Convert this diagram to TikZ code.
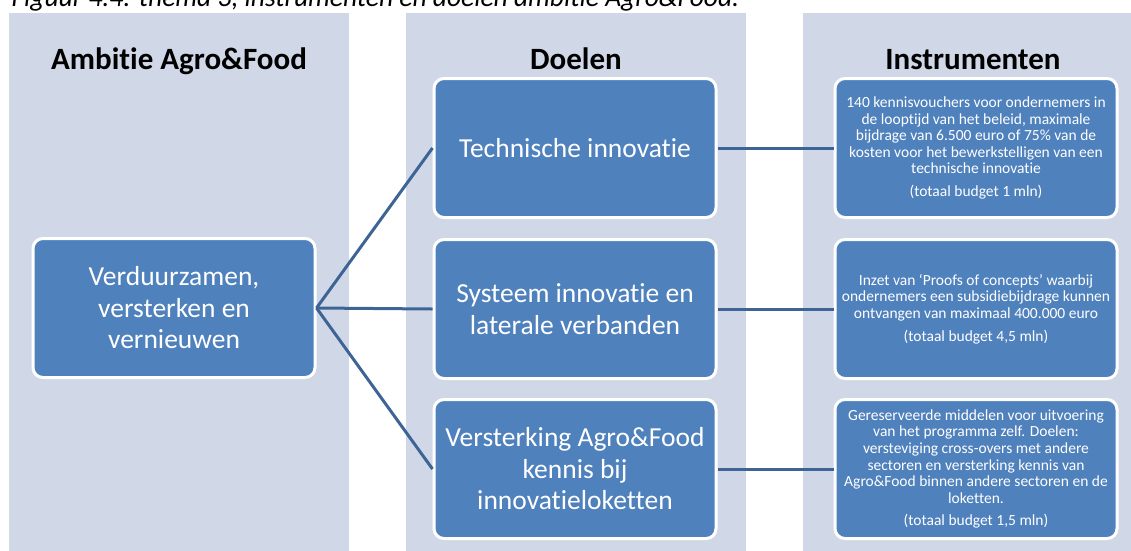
\documentclass[tikz,border=0pt]{standalone}
\usepackage{fontspec}
\setmainfont{Carlito}[Ligatures={TeX,NoCommon}]
\definecolor{panelgray}{RGB}{208,216,232}
\definecolor{boxblue}{RGB}{79,129,189}
\definecolor{linkblue}{RGB}{62,100,150}
\begin{document}
\begin{tikzpicture}[x=1pt, y=-1pt,
    panel/.style={fill=panelgray},
    caption/.style={font=\fontsize{27.5}{31}\selectfont\itshape},
    title/.style={anchor=base, font=\fontsize{31}{36}\selectfont\bfseries},
    goalbox/.style={draw=white, line width=3pt, fill=boxblue, rounded corners=10pt,
      minimum width=282pt, minimum height=139pt, inner sep=0pt, text=white,
      align=center, font=\fontsize{27.5}{31.5}\selectfont},
    toolbox/.style={goalbox, font=\fontsize{15.5}{16.6}\selectfont},
    link/.style={draw=linkblue, line width=3pt}]
      % Fix the page size and cut what sticks out
      \useasboundingbox (0,0) rectangle (1131,550);
      \clip (0,0) rectangle (1131,550);

      % Caption, cut at the top
      \node[caption, anchor=base west] (caption) at (8,6)
        {Figuur 4.4: thema 3, instrumenten en doelen ambitie Agro\&Food.};

      % Draw the three column panels
      \foreach \x in {9,406,803} {
        \fill[panel] (\x,13) rectangle ++(340,560);
      }

      % Column headers
      \node[title] (tAmbitie) at (179,69) {Ambitie Agro\&Food};
      \node[title] (tDoelen) at (576,69) {Doelen};
      \node[title] (tInstr) at (973,69) {Instrumenten};

      % Ambitie
      \node[goalbox] (ambitie) at (174,308) {Verduurzamen,\\ versterken en\\ vernieuwen};

      % Doelen
      \node[goalbox] (doel1) at (575,148) {Technische innovatie};
      \node[goalbox] (doel2) at (575,309) {Systeem innovatie en\\ laterale verbanden};
      \node[goalbox] (doel3) at (575,469) {Versterking Agro\&Food\\ kennis bij\\ innovatieloketten};

      % Instrumenten
      \node[toolbox] (instr1) at (976,148) {140 kennisvouchers voor ondernemers in\\
        de looptijd van het beleid, maximale\\ bijdrage van 6.500 euro of 75\% van de\\
        kosten voor het bewerkstelligen van een\\ technische innovatie\\[6pt]
        (totaal budget 1 mln)};
      \node[toolbox] (instr2) at (976,309) {Inzet van `Proofs of concepts' waarbij\\
        ondernemers een subsidiebijdrage kunnen\\ ontvangen van maximaal 400.000 euro\\[6pt]
        (totaal budget 4,5 mln)};
      \node[toolbox] (instr3) at (976,469) {Gereserveerde middelen voor uitvoering\\
        van het programma zelf. Doelen:\\ versteviging cross-overs met andere\\
        sectoren en versterking kennis van\\ Agro\&Food binnen andere sectoren en de\\
        loketten.\\[6pt] (totaal budget 1,5 mln)};

      % Draw the connectors
      \foreach \i in {1,2,3} {
        \draw[link] (ambitie.east) -- (doel\i.west);
        \draw[link] (doel\i.east) -- (instr\i.west);
      }
    \end{tikzpicture}
\end{document}
